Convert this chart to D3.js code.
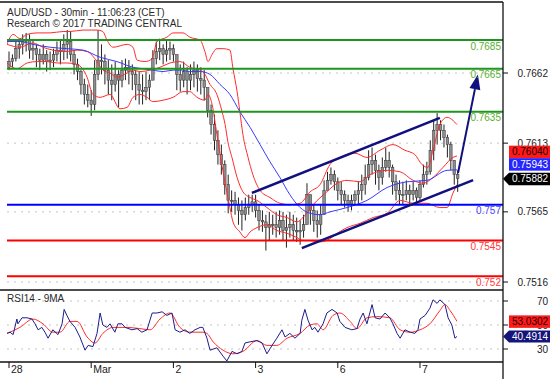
<!DOCTYPE html>
<html><head><meta charset="utf-8">
<script src="https://cdn.jsdelivr.net/npm/d3@7"></script>
<style>
body{margin:0;background:#fff}
svg{display:block;font-family:"Liberation Sans",Arial,sans-serif}
</style>
</head><body>
<svg id="chart" width="557" height="379"></svg>
<script>
// ---------- data ----------
const dayTicks = [0, 24, 48, 72, 96, 120];
const dayLabels = ["28", "Mar", "2", "3", "6", "7"];
const priceTicks = [0.7662, 0.7613, 0.7565, 0.7516];
const priceTickLabels = ["0.7662", "0.7613", "0.7565", "0.7516"];
const rsiTicks = [70, 50, 30];
const rsiTickLabels = ["70", "50", "30"];

const firstOpen = 0.7666;
const highs = [0.7677,0.7675,0.7685,0.7686,0.7689,0.7690,0.7689,0.7685,0.7682,0.7679,
0.7682,0.7678,0.7677,0.7679,0.7684,0.7685,0.7689,0.7692,0.7691,0.7678,
0.7672,0.7664,0.7658,0.7654,0.7650,0.7671,0.7692,0.7682,0.7675,0.7671,
0.7668,0.7670,0.7664,0.7671,0.7672,0.7671,0.7668,0.7664,0.7663,0.7661,
0.7663,0.7661,0.7678,0.7684,0.7686,0.7682,0.7685,0.7684,0.7682,0.7671,
0.7668,0.7670,0.7666,0.7668,0.7670,0.7668,0.7666,0.7664,0.7650,0.7640,
0.7633,0.7622,0.7612,0.7601,0.7591,0.7580,0.7579,0.7575,0.7573,0.7575,
0.7577,0.7577,0.7577,0.7570,0.7566,0.7563,0.7565,0.7563,0.7565,0.7566,
0.7565,0.7563,0.7565,0.7563,0.7561,0.7559,0.7563,0.7585,0.7577,0.7570,
0.7566,0.7570,0.7587,0.7593,0.7596,0.7594,0.7589,0.7586,0.7580,0.7577,
0.7577,0.7580,0.7586,0.7591,0.7598,0.7608,0.7610,0.7605,0.7598,0.7603,
0.7610,0.7607,0.7598,0.7591,0.7587,0.7586,0.7587,0.7584,0.7586,0.7582,
0.7587,0.7598,0.7600,0.7615,0.7629,0.7634,0.7629,0.7626,0.7619,0.7614,
0.7601,0.7594];
const lows = [0.7664,0.7666,0.7670,0.7672,0.7675,0.7677,0.7672,0.7671,0.7666,0.7664,
0.7668,0.7663,0.7664,0.7666,0.7670,0.7668,0.7671,0.7672,0.7670,0.7661,
0.7657,0.7647,0.7640,0.7638,0.7632,0.7636,0.7657,0.7661,0.7654,0.7647,
0.7643,0.7649,0.7638,0.7652,0.7657,0.7654,0.7650,0.7643,0.7640,0.7640,
0.7643,0.7643,0.7657,0.7668,0.7671,0.7668,0.7670,0.7671,0.7670,0.7650,
0.7649,0.7652,0.7647,0.7650,0.7652,0.7649,0.7647,0.7643,0.7631,0.7619,
0.7608,0.7598,0.7591,0.7577,0.7564,0.7565,0.7563,0.7556,0.7552,0.7559,
0.7563,0.7565,0.7561,0.7552,0.7551,0.7538,0.7545,0.7549,0.7547,0.7549,
0.7545,0.7540,0.7547,0.7545,0.7544,0.7542,0.7547,0.7559,0.7556,0.7551,
0.7547,0.7549,0.7570,0.7580,0.7584,0.7580,0.7573,0.7570,0.7568,0.7565,
0.7566,0.7570,0.7570,0.7573,0.7577,0.7587,0.7591,0.7584,0.7580,0.7584,
0.7593,0.7589,0.7577,0.7573,0.7570,0.7570,0.7573,0.7570,0.7573,0.7570,
0.7573,0.7582,0.7584,0.7591,0.7601,0.7612,0.7615,0.7610,0.7603,0.7594,
0.7584,0.7579];
const closes = [0.7670,0.7672,0.7679,0.7682,0.7684,0.7685,0.7678,0.7679,0.7675,0.7671,
0.7675,0.7670,0.7671,0.7675,0.7678,0.7677,0.7682,0.7684,0.7675,0.7668,
0.7663,0.7654,0.7647,0.7643,0.7640,0.7661,0.7671,0.7670,0.7664,0.7657,
0.7654,0.7661,0.7657,0.7664,0.7666,0.7663,0.7661,0.7654,0.7650,0.7649,
0.7652,0.7657,0.7672,0.7677,0.7679,0.7675,0.7678,0.7679,0.7675,0.7661,
0.7657,0.7663,0.7657,0.7661,0.7664,0.7658,0.7657,0.7652,0.7636,0.7626,
0.7615,0.7605,0.7598,0.7584,0.7573,0.7573,0.7570,0.7566,0.7563,0.7568,
0.7570,0.7572,0.7566,0.7559,0.7558,0.7554,0.7556,0.7556,0.7554,0.7559,
0.7552,0.7554,0.7556,0.7552,0.7551,0.7552,0.7556,0.7577,0.7566,0.7559,
0.7556,0.7563,0.7580,0.7587,0.7591,0.7586,0.7580,0.7577,0.7573,0.7570,
0.7573,0.7577,0.7580,0.7584,0.7589,0.7598,0.7601,0.7594,0.7589,0.7596,
0.7601,0.7596,0.7586,0.7580,0.7577,0.7577,0.7580,0.7577,0.7580,0.7575,
0.7584,0.7591,0.7593,0.7608,0.7622,0.7626,0.7622,0.7617,0.7612,0.7601,
0.7591,0.75882];

// [bar, price]
const bbUpper = [[-0.6,0.7682],[1.2,0.7689],[3.2,0.7686],[5.3,0.7689],[8.2,0.7690],[12.0,0.7690],[15.8,0.7691],[17.8,0.7691],[21.6,0.7692],[25.7,0.7692],[27.4,0.7691],[28.6,0.7685],[30.4,0.7680],[34.5,0.7682],[36.2,0.7680],[37.4,0.7671],[39.7,0.7670],[41.8,0.7672],[43.2,0.7684],[46.1,0.7687],[47.9,0.7690],[50.8,0.7690],[52.8,0.7687],[55.8,0.7685],[57.2,0.7677],[58.1,0.7670],[59.3,0.7675],[60.7,0.7679],[62.5,0.7679],[64.5,0.7678],[65.4,0.7665],[66.6,0.7649],[67.4,0.7635],[68.3,0.7619],[69.8,0.7603],[71.2,0.7591],[73.3,0.7580],[76.2,0.7575],[79.1,0.7571],[82.0,0.7570],[85.0,0.7571],[87.9,0.7579],[90.8,0.7584],[93.7,0.7598],[96.6,0.7603],[101.0,0.7606],[104.5,0.7603],[108.3,0.7608],[112.1,0.7612],[115.6,0.7608],[118.5,0.7605],[120.6,0.7598],[122.3,0.7596],[123.8,0.7608],[125.8,0.7626],[127.9,0.7631],[130.8,0.7626]];
const bbMiddle = [[-0.6,0.7682],[3.2,0.7680],[7.0,0.7683],[9.9,0.7680],[12.8,0.7678],[16.9,0.7677],[19.9,0.7678],[22.8,0.7677],[25.7,0.7670],[27.4,0.7664],[29.5,0.7662],[31.5,0.7659],[34.5,0.7662],[36.2,0.7664],[38.2,0.7663],[41.2,0.7664],[44.1,0.7666],[47.0,0.7669],[49.9,0.7670],[52.8,0.7666],[56.6,0.7663],[58.7,0.7654],[60.7,0.7647],[62.2,0.7635],[63.1,0.7626],[63.9,0.7614],[65.1,0.7603],[66.6,0.7589],[68.3,0.7579],[70.4,0.7575],[72.4,0.7573],[75.3,0.7568],[78.2,0.7563],[81.2,0.7561],[84.1,0.7558],[85.8,0.7561],[88.8,0.7570],[92.8,0.7579],[95.8,0.7585],[98.7,0.7587],[102.5,0.7586],[105.4,0.7591],[110.4,0.7594],[114.2,0.7593],[118.0,0.7587],[120.9,0.7585],[123.8,0.7589],[126.7,0.7596],[129.6,0.7603],[130.8,0.76040]];
const bbLower = [[-0.6,0.7669],[2.3,0.7665],[5.3,0.7669],[8.2,0.7670],[11.1,0.7670],[14.0,0.7669],[16.9,0.7669],[19.9,0.7668],[22.8,0.7659],[24.5,0.7647],[26.6,0.7645],[29.5,0.7647],[32.4,0.7637],[34.5,0.7638],[36.2,0.7645],[38.2,0.7647],[40.3,0.7645],[42.0,0.7642],[45.0,0.7643],[47.9,0.7645],[50.8,0.7649],[52.8,0.7649],[54.9,0.7645],[57.2,0.7643],[58.1,0.7647],[59.3,0.7640],[60.7,0.7619],[62.5,0.7593],[63.6,0.7579],[64.5,0.7568],[65.4,0.7558],[67.4,0.7551],[68.9,0.7547],[70.4,0.7551],[72.4,0.7554],[75.3,0.7556],[78.2,0.7552],[81.2,0.7550],[84.1,0.7547],[85.8,0.7545],[87.9,0.7545],[90.8,0.7544],[92.8,0.7545],[95.8,0.7550],[98.7,0.7554],[102.5,0.7557],[106.3,0.7561],[110.4,0.7564],[114.2,0.7573],[118.0,0.7571],[122.0,0.7571],[125.8,0.7568],[127.9,0.7568],[129.6,0.7578],[130.8,0.7584]];
const movingAvg = [[-0.6,0.7684],[3.2,0.7684],[7.0,0.7682],[12.0,0.7680],[16.9,0.7679],[21.6,0.7678],[26.6,0.7673],[31.5,0.7670],[36.2,0.7666],[39.1,0.7665],[42.0,0.7664],[45.0,0.7663],[47.9,0.7664],[50.8,0.7664],[52.8,0.7663],[55.8,0.7663],[58.7,0.7661],[61.6,0.7654],[64.5,0.7647],[67.4,0.7635],[70.4,0.7624],[73.3,0.7612],[76.2,0.7600],[79.1,0.7589],[82.0,0.7577],[85.0,0.7568],[87.9,0.7564],[90.8,0.7563],[93.7,0.7565],[98.7,0.7568],[104.5,0.7573],[110.4,0.7582],[116.2,0.7586],[122.0,0.7587],[127.9,0.7594],[130.8,0.75943]];

const levels = [0.7685, 0.7665, 0.7635, 0.757, 0.7545, 0.752];
const levelLabels = ["0.7685", "0.7665", "0.7635", "0.757", "0.7545", "0.752"];
const levelKinds = ["res", "res", "res", "pivot", "sup", "sup"];

const channelUpper = [[70.9, 0.75782], [125.8, 0.76306]];
const channelLower = [[85.5, 0.75397], [135.5, 0.75872]];
const targetArrow = [[131.1, 0.75921], [136.9, 0.7661]];

const rsi = [[-0.6,43],[0.3,44],[1.2,42],[2.3,55],[2.6,51],[3.8,56],[5.3,56],[6.7,55],[7.6,51],[8.5,46],[9.6,48],[10.5,44],[11.4,39],[12.8,46],[14.3,42],[15.5,51],[16.1,63],[16.9,58],[17.8,53],[19.3,48],[20.7,40],[22.2,29],[23.1,33],[24.5,32],[25.7,43],[26.6,60],[27.4,50],[28.6,48],[29.5,51],[30.9,44],[31.8,51],[33.0,51],[33.9,48],[35.9,46],[37.4,47],[38.8,44],[40.3,46],[41.8,60],[43.2,60],[44.7,61],[46.1,58],[47.6,60],[48.5,46],[49.9,44],[51.4,46],[52.8,43],[54.3,46],[55.8,48],[56.6,48],[57.8,39],[58.7,29],[60.7,31],[62.5,24],[63.6,20],[65.1,28],[66.6,26],[68.0,28],[68.9,35],[70.4,36],[72.4,37],[73.9,35],[75.3,26],[76.8,33],[78.2,39],[79.7,46],[80.6,40],[82.0,43],[83.5,39],[85.0,43],[85.5,54],[86.4,63],[87.3,54],[88.5,46],[89.3,48],[90.2,44],[91.7,51],[92.8,60],[94.3,63],[95.8,60],[96.6,53],[98.1,48],[100.1,46],[101.6,47],[102.5,55],[103.4,60],[104.5,51],[106.0,67],[106.9,56],[108.3,55],[109.8,60],[111.2,56],[112.1,51],[113.3,43],[114.2,39],[115.6,46],[117.1,44],[118.5,43],[119.4,46],[120.0,55],[121.5,58],[122.9,64],[123.8,71],[125.0,68],[125.8,71],[127.3,67],[128.2,56],[129.3,50],[130.2,39],[130.8,40.4914]];
const rsiMA = [[-0.6,43],[3.2,48],[7.0,55],[9.9,51],[12.8,44],[14.9,44],[17.8,53],[19.9,53],[22.8,40],[25.1,35],[27.4,43],[30.4,48],[34.5,48],[38.2,47],[41.2,46],[44.1,55],[47.0,60],[49.9,48],[52.8,44],[56.6,44],[57.8,43],[59.6,36],[62.5,29],[65.4,26],[68.3,28],[72.4,37],[75.3,33],[78.2,33],[81.2,39],[85.0,43],[87.9,50],[89.9,51],[91.7,46],[94.6,58],[96.6,60],[99.6,53],[101.6,47],[104.5,56],[107.4,57],[111.2,56],[114.2,46],[117.1,44],[120.0,46],[122.9,51],[125.8,62],[127.3,67],[128.8,62],[130.8,53.0302]];

const priceBadges = [0.76040, 0.75943, 0.75882];
const priceBadgeText = ["0.76040", "0.75943", "0.75882"];
const rsiBadges = [53.0302, 40.4914];
const rsiBadgeText = ["53.0302", "40.4914"];

const titleLines = ["AUD/USD - 30min - 11:06:23 (CET)", "Research \u00a9 2017 TRADING CENTRAL"];
const rsiTitle = "RSI14 - 9MA";

// ---------- layout ----------
const W = 557, H = 379;
const left = 7, axisX = 503;
const priceTop = 2, priceBottom = 290, rsiBottom = 362;

const svg = d3.select("#chart");
const x = d3.scaleLinear().domain([0, 120]).range([9, 420]);
const y = d3.scaleLinear().domain([0.7662, 0.7516]).range([73, 282]);
const yr = d3.scaleLinear().domain([70, 30]).range([301, 349]);

const defs = svg.append("defs");
defs.append("clipPath").attr("id", "clipP").append("rect")
  .attr("x", left).attr("y", priceTop).attr("width", axisX - left).attr("height", priceBottom - priceTop);
defs.append("clipPath").attr("id", "clipR").append("rect")
  .attr("x", left).attr("y", priceBottom).attr("width", axisX - left).attr("height", rsiBottom - priceBottom);

// grid
const gridG = svg.append("g");
gridG.selectAll("line.pg").data(priceTicks).join("line")
  .attr("x1", left).attr("x2", axisX).attr("y1", d => y(d)).attr("y2", d => y(d))
  .attr("stroke", "#c4c4c4").attr("stroke-width", 1).attr("stroke-dasharray", "2,5");
gridG.selectAll("line.rg").data(rsiTicks).join("line").attr("class", "rg")
  .attr("x1", left).attr("x2", axisX).attr("y1", d => yr(d)).attr("y2", d => yr(d))
  .attr("stroke", "#c4c4c4").attr("stroke-width", 1).attr("stroke-dasharray", "2,5");

// price panel
const pg = svg.append("g").attr("clip-path", "url(#clipP)");
const bars = highs.map((h, i) => ({ i, h, l: lows[i], c: closes[i], o: i === 0 ? firstOpen : closes[i - 1] }));
const bw = 2.6;
pg.selectAll("line.wick").data(bars).join("line").attr("class", "wick")
  .attr("x1", d => x(d.i)).attr("x2", d => x(d.i))
  .attr("y1", d => y(d.h)).attr("y2", d => y(d.l))
  .attr("stroke", "#222").attr("stroke-width", 1);
pg.selectAll("rect.body").data(bars).join("rect").attr("class", "body")
  .attr("x", d => x(d.i) - bw / 2).attr("width", bw)
  .attr("y", d => y(Math.max(d.o, d.c)))
  .attr("height", d => Math.max(1, Math.abs(y(d.o) - y(d.c))))
  .attr("fill", "#8e8e8e").attr("stroke", "#333").attr("stroke-width", 0.5);

const lineGen = d3.line().x(d => x(d[0])).y(d => y(d[1])).curve(d3.curveMonotoneX);
[bbUpper, bbMiddle, bbLower].forEach(s => {
  pg.append("path").datum(s).attr("d", lineGen)
    .attr("fill", "none").attr("stroke", "#ff2a2a").attr("stroke-width", 1);
});
pg.append("path").datum(movingAvg).attr("d", lineGen)
  .attr("fill", "none").attr("stroke", "#3a3aff").attr("stroke-width", 1);

const levelColor = { res: "#1c961c", pivot: "#0000ff", sup: "#ff0000" };
const labelColor = { res: "#5aae2e", pivot: "#4646ff", sup: "#ff3a3a" };
pg.selectAll("line.lvl").data(levels).join("line").attr("class", "lvl")
  .attr("x1", left).attr("x2", axisX).attr("y1", d => y(d)).attr("y2", d => y(d))
  .attr("stroke", (d, i) => levelColor[levelKinds[i]]).attr("stroke-width", 2);

const straight = d3.line().x(d => x(d[0])).y(d => y(d[1]));
[channelUpper, channelLower].forEach(s => {
  pg.append("path").datum(s).attr("d", straight)
    .attr("fill", "none").attr("stroke", "#10107e").attr("stroke-width", 2.5);
});
// arrow
const a0 = [x(targetArrow[0][0]), y(targetArrow[0][1])];
const a1 = [x(targetArrow[1][0]), y(targetArrow[1][1])];
const ang = Math.atan2(a1[1] - a0[1], a1[0] - a0[0]);
const hl = 15, hw = 5.5;
const base = [a1[0] - hl * Math.cos(ang), a1[1] - hl * Math.sin(ang)];
pg.append("line").attr("x1", a0[0]).attr("y1", a0[1]).attr("x2", base[0]).attr("y2", base[1])
  .attr("stroke", "#10107e").attr("stroke-width", 2);
pg.append("polygon").attr("points", [
  a1,
  [base[0] + hw * Math.sin(ang), base[1] - hw * Math.cos(ang)],
  [base[0] - hw * Math.sin(ang), base[1] + hw * Math.cos(ang)]
].map(p => p.join(",")).join(" ")).attr("fill", "#10107e");

svg.append("g").selectAll("text").data(levels).join("text")
  .attr("x", 501).attr("y", d => y(d) + 9.5).attr("text-anchor", "end")
  .attr("font-size", 10).attr("fill", (d, i) => labelColor[levelKinds[i]])
  .text((d, i) => levelLabels[i]);

// RSI panel
const rg = svg.append("g").attr("clip-path", "url(#clipR)");
const rLine = d3.line().x(d => x(d[0])).y(d => yr(d[1]));
rg.append("path").datum(rsiMA).attr("d", rLine.curve(d3.curveMonotoneX))
  .attr("fill", "none").attr("stroke", "#ff2a2a").attr("stroke-width", 1);
rg.append("path").datum(rsi).attr("d", d3.line().x(d => x(d[0])).y(d => yr(d[1])))
  .attr("fill", "none").attr("stroke", "#1c1c8c").attr("stroke-width", 1);

// frames
const fr = svg.append("g").attr("stroke", "#111").attr("stroke-width", 1.3);
fr.append("line").attr("x1", 0).attr("x2", axisX).attr("y1", priceTop).attr("y2", priceTop);
fr.append("line").attr("x1", 0).attr("x2", axisX).attr("y1", priceBottom).attr("y2", priceBottom);
fr.append("line").attr("x1", 0).attr("x2", axisX).attr("y1", rsiBottom).attr("y2", rsiBottom);
fr.append("line").attr("x1", axisX).attr("x2", axisX).attr("y1", priceTop).attr("y2", H);

// titles
svg.append("g").selectAll("text").data(titleLines).join("text")
  .attr("x", 7).attr("y", (d, i) => 15.5 + i * 11.7)
  .attr("font-size", 10).attr("fill", "#2a2a2a").text(d => d);
svg.append("text").attr("x", 7).attr("y", 302).attr("font-size", 10).attr("fill", "#2a2a2a").text(rsiTitle);

// right axis
const ax = svg.append("g");
ax.selectAll("line.pt").data(priceTicks).join("line").attr("class", "pt")
  .attr("x1", axisX).attr("x2", axisX + 5).attr("y1", d => y(d)).attr("y2", d => y(d))
  .attr("stroke", "#111");
ax.selectAll("text.pt").data(priceTicks).join("text").attr("class", "pt")
  .attr("x", 548).attr("y", d => y(d) + 3.6).attr("text-anchor", "end")
  .attr("font-size", 10).attr("fill", "#222").text((d, i) => priceTickLabels[i]);
ax.selectAll("line.rt").data(rsiTicks).join("line").attr("class", "rt")
  .attr("x1", axisX).attr("x2", axisX + 5).attr("y1", d => yr(d)).attr("y2", d => yr(d))
  .attr("stroke", "#111");
ax.selectAll("text.rt").data(rsiTicks).join("text").attr("class", "rt")
  .attr("x", 548).attr("y", d => yr(d) + 3.6).attr("text-anchor", "end")
  .attr("font-size", 10).attr("fill", "#222").text((d, i) => rsiTickLabels[i]);

// bottom day axis
const bx = svg.append("g");
bx.selectAll("line").data(dayTicks).join("line")
  .attr("x1", d => x(d)).attr("x2", d => x(d)).attr("y1", rsiBottom).attr("y2", rsiBottom + 6)
  .attr("stroke", "#111");
bx.selectAll("text").data(dayTicks).join("text")
  .attr("x", d => x(d) + 2).attr("y", 373).attr("font-size", 10.5).attr("fill", "#222")
  .text((d, i) => dayLabels[i]);

// badges
const bx0 = 509, bx1 = 550, bh = 12.5;
const closeY = y(priceBadges[2]);
const blackTop = closeY - 6;
const blueTop = blackTop - 14.5;
const redTop = blueTop - bh;
const badgeG = svg.append("g");
badgeG.append("rect").attr("x", bx0).attr("y", redTop).attr("width", bx1 - bx0).attr("height", bh).attr("fill", "#ff1a1a");
badgeG.append("rect").attr("x", bx0).attr("y", blueTop).attr("width", bx1 - bx0).attr("height", bh).attr("fill", "#2626ff");
badgeG.append("polygon").attr("points", `${axisX},${closeY} ${bx0},${blackTop} ${bx1},${blackTop} ${bx1},${blackTop + bh} ${bx0},${blackTop + bh}`).attr("fill", "#000");
const bt = [[redTop, "#220000"], [blueTop, "#fff"], [blackTop, "#fff"]];
badgeG.selectAll("text").data(priceBadgeText).join("text")
  .attr("x", (bx0 + bx1) / 2 + 0.5).attr("y", (d, i) => bt[i][0] + 9.8).attr("text-anchor", "middle")
  .attr("font-size", 10).attr("fill", (d, i) => bt[i][1]).text(d => d);

const rY1 = yr(rsiBadges[0]), rY2 = yr(rsiBadges[1]);
badgeG.append("rect").attr("x", bx0).attr("y", rY1 - 6).attr("width", bx1 - bx0).attr("height", bh).attr("fill", "#ff1a1a");
badgeG.append("polygon").attr("points", `${axisX},${rY2} ${bx0},${rY2 - 6} ${bx1},${rY2 - 6} ${bx1},${rY2 + 6} ${bx0},${rY2 + 6}`).attr("fill", "#14147a");
badgeG.append("text").attr("x", (bx0 + bx1) / 2 + 0.5).attr("y", rY1 + 3.8).attr("text-anchor", "middle")
  .attr("font-size", 10).attr("fill", "#220000").text(rsiBadgeText[0]);
badgeG.append("text").attr("x", (bx0 + bx1) / 2 + 0.5).attr("y", rY2 + 3.8).attr("text-anchor", "middle")
  .attr("font-size", 10).attr("fill", "#fff").text(rsiBadgeText[1]);
</script>
</body></html>
